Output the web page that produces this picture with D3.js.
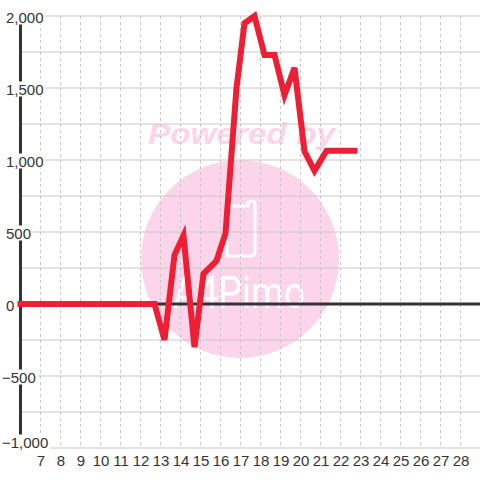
<!DOCTYPE html>
<html><head><meta charset="utf-8">
<script src="https://cdn.jsdelivr.net/npm/d3@7/dist/d3.min.js"></script>
<style>body{margin:0;background:#fff}svg{display:block}</style>
</head><body><svg id="c" width="480" height="480"></svg>
<script>
// data
const xValues = [6, 12.7, 13.2, 13.7, 14.15, 14.7, 15.15, 15.8, 16.25, 16.8, 17.2, 17.7, 18.2, 18.7, 19.2, 19.7, 20.2, 20.7, 21.3, 22.7];
const yValues = [0, 0, -250, 340, 475, -300, 210, 300, 490, 1500, 1950, 2000, 1730, 1730, 1450, 1640, 1060, 925, 1065, 1065];
const xTicks = [7,8,9,10,11,12,13,14,15,16,17,18,19,20,21,22,23,24,25,26,27,28];
const yTicks = [-1000, -500, 0, 500, 1000, 1500, 2000];
const yGrid = [-1000,-750,-500,-250,250,500,750,1000,1250,1500,1750,2000];

const svg = d3.select('#c');
const x = d3.scaleLinear().domain([6, 29]).range([20.5, 480.5]);
const y = d3.scaleLinear().domain([-1000, 2000]).range([448, 16]);
const font = '"Liberation Sans", Arimo, Arial, sans-serif';

// watermark
const wm = svg.append('g');
wm.append('circle').attr('cx', 240).attr('cy', 259).attr('r', 99).attr('fill', '#fcd5ea');
wm.append('text').attr('x', 148).attr('y', 144).attr('textLength', 187)
  .attr('lengthAdjust', 'spacingAndGlyphs')
  .attr('font-family', font).attr('font-weight', 'bold').attr('font-style', 'italic')
  .attr('font-size', 29).attr('fill', '#fcd5ea').text('Powered by');
wm.append('path')
  .attr('d', 'M227,256 V210 a4,4 0 0 1 4,-4 H248 V204 a3,3 0 0 1 3,-3 H252 a3,3 0 0 1 3,3 V252 a4,4 0 0 1 -4,4 Z')
  .attr('fill', 'none').attr('stroke', '#fff').attr('stroke-width', 3);
wm.append('text').attr('x', 173).attr('y', 308).attr('textLength', 132)
  .attr('lengthAdjust', 'spacingAndGlyphs')
  .attr('font-family', 'Roboto, "DejaVu Sans", sans-serif').attr('font-weight', 400)
  .attr('font-size', 44).attr('fill', '#fff').text('A4Pimo');

// vertical dashed grid
svg.append('g').selectAll('line').data(xTicks).join('line')
  .attr('x1', d => x(d)).attr('x2', d => x(d)).attr('y1', y(2000)).attr('y2', y(-1000))
  .attr('stroke', '#c8c8c8').attr('stroke-width', 1).attr('stroke-dasharray', '3,3');
// horizontal grid
svg.append('g').selectAll('line').data(yGrid).join('line')
  .attr('x1', 20).attr('x2', 480).attr('y1', d => y(d)).attr('y2', d => y(d))
  .attr('stroke', '#c8c8c8').attr('stroke-width', 1);

// y axis line
svg.append('line').attr('x1', 20.5).attr('x2', 20.5).attr('y1', y(2000)).attr('y2', y(-1000))
  .attr('stroke', '#333').attr('stroke-width', 3);

// y labels via axis
const yAxis = svg.append('g').call(d3.axisLeft(y).tickValues(yTicks).tickFormat(d3.format(',')).tickSize(0));
yAxis.select('.domain').remove();
yAxis.selectAll('text').attr('x', d => d < 0 ? 2 : 6).attr('dy', null).attr('y', d => d === -1000 ? -1 : 6)
  .attr('text-anchor', 'start').attr('font-family', font).attr('font-size', 15).attr('fill', '#333');
yAxis.selectAll('.tick').each(function() {
  const t = d3.select(this).select('text');
  const bb = t.node().getBBox();
  d3.select(this).insert('rect', 'text').attr('x', bb.x - 1).attr('y', bb.y + 1)
    .attr('width', bb.width + 3).attr('height', bb.height - 2).attr('fill', '#fff');
});

// zero line
svg.append('line').attr('x1', 20).attr('x2', 480).attr('y1', y(0)).attr('y2', y(0))
  .attr('stroke', '#333').attr('stroke-width', 3);

// x labels
const xAxis = svg.append('g').attr('transform', 'translate(0,466)')
  .call(d3.axisBottom(x).tickValues(xTicks).tickSize(0).tickFormat(d3.format('d')));
xAxis.select('.domain').remove();
xAxis.selectAll('text').attr('y', 0).attr('dy', null)
  .attr('font-family', font).attr('font-size', 15).attr('fill', '#333');

// data line
const pts = xValues.map((v, i) => [v, yValues[i]]);
svg.append('path').datum(pts)
  .attr('d', d3.line().x(d => x(d[0])).y(d => y(d[1])))
  .attr('fill', 'none').attr('stroke', '#ee1f35').attr('stroke-width', 6)
  .attr('stroke-linejoin', 'miter').attr('stroke-linecap', 'square');
</script></body></html>
